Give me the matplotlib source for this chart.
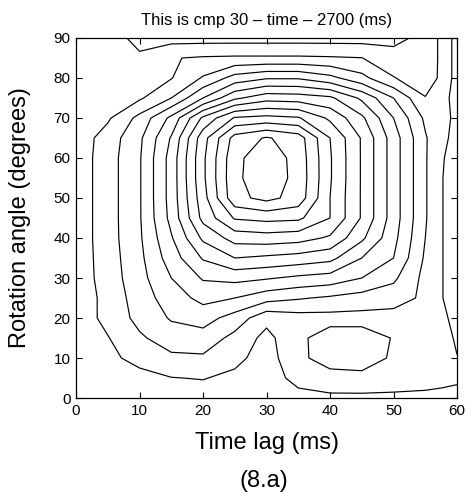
import matplotlib
matplotlib.use('Agg')
import matplotlib.pyplot as plt
import numpy as np

# map values (level units: one contour per unit)
lags = [0, 5, 10, 15, 20, 25, 30, 35, 40, 45, 50, 55, 57.5, 60]
angles = [0, 5, 10, 15, 20, 25, 30, 35, 40, 45, 50, 55, 60, 65, 70, 75, 80, 85, 90]
values = [
    [3.2, 3.3, 3.4, 3.5, 3.5, 3.4, 3.3, 3.6, 3.75, 3.75, 3.75, 3.75, 3.7, 3.6],
    [3.3, 3.4, 3.6, 3.97, 4.05, 3.75, 3.4, 4.4, 4.75, 4.8, 4.6, 4.4, 4.3, 4.2],
    [3.35, 3.7, 4.4, 4.8, 4.85, 4.3, 3.5, 4.85, 5.3, 5.35, 4.9, 4.5, 4.3, 4.02],
    [3.4, 3.95, 4.85, 5.5, 5.6, 4.7, 3.7, 4.8, 5.45, 5.45, 4.95, 4.5, 4.3, 3.9],
    [3.4, 4.3, 5.3, 6.1, 6.4, 5.6, 4.3, 4.6, 4.65, 4.65, 4.6, 4.4, 4.15, 3.8],
    [3.4, 4.3, 5.5, 6.5, 7.3, 7.0, 6.4, 6.1, 5.85, 5.6, 5.45, 4.8, 4.05, 3.6],
    [3.4, 4.45, 5.65, 7.0, 8.1, 8.3, 8.1, 7.8, 7.6, 7.0, 6.2, 4.7, 4.05, 3.6],
    [3.4, 4.5, 5.75, 7.5, 9.1, 10.0, 9.8, 9.6, 9.3, 8.0, 7.0, 4.85, 4.05, 3.6],
    [3.4, 4.55, 5.85, 7.9, 10.2, 11.4, 11.55, 11.4, 10.85, 9.2, 7.3, 5.0, 4.05, 3.6],
    [3.4, 4.55, 5.9, 8.3, 11.3, 13.1, 13.3, 13.2, 12.0, 9.9, 7.5, 5.1, 4.05, 3.6],
    [3.4, 4.55, 5.9, 8.4, 11.6, 14.7, 15.3, 14.6, 12.0, 9.9, 7.5, 5.1, 4.05, 3.6],
    [3.4, 4.55, 5.9, 8.4, 11.8, 14.8, 15.6, 14.7, 12.1, 9.9, 7.5, 5.1, 4.05, 3.6],
    [3.4, 4.55, 5.9, 8.4, 11.8, 14.75, 15.6, 14.65, 12.1, 9.9, 7.5, 5.1, 4.1, 3.6],
    [3.4, 4.45, 5.8, 8.1, 11.6, 14.4, 15.1, 14.5, 12.0, 9.9, 7.5, 5.1, 4.25, 3.7],
    [3.4, 3.85, 5.3, 7.25, 10.2, 12.1, 12.3, 12.1, 10.8, 9.2, 7.0, 4.8, 4.3, 3.8],
    [3.4, 3.5, 3.85, 5.0, 7.0, 8.8, 9.6, 9.5, 9.2, 7.8, 6.0, 4.05, 4.1, 3.9],
    [3.45, 3.4, 3.5, 3.95, 5.1, 6.4, 6.9, 6.9, 6.3, 5.3, 4.05, 3.4, 4.2, 3.9],
    [3.5, 3.45, 3.1, 3.95, 4.1, 4.15, 4.15, 4.15, 4.1, 4.02, 3.4, 3.3, 4.2, 3.9],
    [3.5, 3.3, 2.8, 2.6, 2.6, 2.6, 2.6, 2.6, 2.6, 2.6, 2.7, 3.3, 4.2, 3.9],
]
levels = [3, 4, 5, 6, 7, 8, 9, 10, 11, 12, 13, 14, 15]

narrow = ['Liberation Sans Narrow', 'Liberation Sans', 'DejaVu Sans']
plt.rcParams['font.family'] = ['Liberation Sans', 'DejaVu Sans']

fig = plt.figure(figsize=(4.71, 4.98), dpi=100)
ax = fig.add_axes([0.1614, 0.2008, 0.809, 0.7229])

ax.contour(lags, angles, np.array(values), levels=levels, colors='black', linewidths=0.85)

ax.set_xlim(0, 60)
ax.set_ylim(0, 90)
ax.set_xticks([0, 10, 20, 30, 40, 50, 60])
ax.set_yticks([0, 10, 20, 30, 40, 50, 60, 70, 80, 90])
ax.tick_params(direction='in', length=4, width=0.8, top=True, right=True,
               labelsize=11, pad=4)
for lab in ax.get_xticklabels() + ax.get_yticklabels():
    lab.set_family(narrow)
for s in ax.spines.values():
    s.set_linewidth(0.9)

ax.set_title('This is cmp 30 \u2013 time \u2013 2700 (ms)', fontsize=12, pad=9, family=narrow)

ax.set_xlabel('Time lag (ms)', fontsize=17, va='center')
ax.xaxis.set_label_coords(0.5, -0.1256)
ax.set_ylabel('Rotation angle (degrees)', fontsize=17, va='center')
ax.yaxis.set_label_coords(-0.147, 0.5)
fig.text(0.561, 0.034, '(8.a)', ha='center', va='center', fontsize=17)

fig.savefig('out.png', dpi=100)
